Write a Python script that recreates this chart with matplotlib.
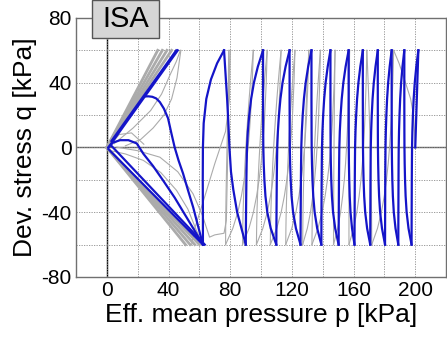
import matplotlib
matplotlib.use("Agg")
import matplotlib.pyplot as plt
from matplotlib.patches import Rectangle

plt.rcParams['font.family'] = ['Liberation Sans', 'DejaVu Sans']

# ---------------- data ----------------
Q_LEVELS = [60, 50, 40, 30, 20, 10, 0, -10, -20, -30, -40, -50, -60]

# simulated (blue) cyclic leaves in the right part
BLUE_TOPS = [76.0, 101.3, 118.5, 132.7, 145.0, 156.8, 166.0, 175.7, 184.7, 192.9, 202.0]
BLUE_BOTTOMS = [90.1, 109.9, 125.6, 139.1, 150.3, 160.6, 170.8, 180.4, 189.0, 197.6]
# fraction of the way from top point to bottom point at each q level
BLUE_DOWN_SHAPE = [0.0, 0.0, 0.0, 0.0, 0.005, 0.01, 0.02, 0.05, 0.1, 0.18, 0.32, 0.58, 1.0]
# fraction of the way from bottom point to next top point at each q level
BLUE_UP_SHAPE = [1.0, 0.7, 0.47, 0.31, 0.2, 0.12, 0.07, 0.05, 0.035, 0.025, 0.015, 0.007, 0.0]
BLUE_START_P = [202.0, 200.0]
BLUE_START_Q = [60.0, 0.0]

# simulated (blue) curves near the origin (butterfly)
BLUE_LEAF0_P = [76.0, 77.0, 78.0, 78.8, 79.5, 80.5, 82.0, 84.5, 90.1]
BLUE_LEAF0_Q = [60, 45, 30, 15, 0, -15, -26, -40, -60]
BLUE_BIGARC_P = [62.3, 62.3, 62.2, 62.3, 62.8, 64.5, 67.5, 71.5, 76.0]
BLUE_BIGARC_Q = [-60, -40, -20, 0, 15, 30, 42, 52, 60]
BLUE_ARC1_P = [62.3, 59.0, 56.0, 52.5, 49.4, 46.5, 44.0, 41.8, 39.7, 37.0, 34.4, 32.0, 29.5, 27.0, 24.5]
BLUE_ARC1_Q = [-60, -48, -37, -26, -16, -8, 0, 9, 18, 24, 28, 30.3, 31.3, 31.6, 31.5]
BLUE_ARC2_P = [1.0, 4.0, 8.6, 14.0, 19.4, 23.7, 30.0, 36.5, 44.0, 51.6, 57.0, 62.3]
BLUE_ARC2_Q = [0.0, 3.0, 4.5, 4.5, 2.5, -3.9, -11.5, -20.4, -31.0, -43.0, -51.5, -60.0]
BLUE_COMP_P = [[1.0, 46.0], [3.0, 45.0]]
BLUE_COMP_Q = [[0.0, 60.0], [4.0, 60.0]]
BLUE_EXT_P = [[1.0, 62.3], [3.0, 63.5]]
BLUE_EXT_Q = [[-1.0, -60.0], [1.0, -60.0]]

# experiment (grey)
GRAY_TOPS = [186.0, 168.6, 157.4, 148.0, 138.5, 131.0, 122.0, 113.0, 104.0, 95.0, 80.0]
GRAY_BOTTOMS = [171.8, 157.0, 147.0, 133.0, 127.0, 116.0, 106.0, 97.0, 88.0, 77.0]
GRAY_DOWN_SHAPE = [0.0, 0.02, 0.04, 0.07, 0.1, 0.14, 0.19, 0.25, 0.33, 0.43, 0.56, 0.74, 1.0]
GRAY_UP_SHAPE = [1.0, 0.86, 0.73, 0.61, 0.5, 0.4, 0.31, 0.23, 0.16, 0.1, 0.05, 0.02, 0.0]
GRAY_INIT_P = [200.0, 199.5, 199.0, 197.0, 193.0, 189.5, 186.0]
GRAY_INIT_Q = [0, 10, 19, 30, 42, 52, 60]
GRAY_COMP_TOPS = [33.0, 36.0, 39.0, 42.0]
GRAY_EXT_BOTTOMS = [51.0, 54.0, 57.0, 60.0]
GRAY_ARCS_P = [
    [4.7, 17.0, 28.4, 35.5, 41.3, 45.0, 47.7],
    [12.0, 22.0, 30.0, 37.0, 42.0, 45.5, 48.0],
    [2.1, 12.0, 23.7, 35.0, 45.2, 52.5, 58.0, 62.3],
    [6.5, 20.0, 34.4, 46.0, 55.9, 62.0, 66.6, 70.0, 76.0, 77.5, 78.5, 79.0],
    [80.0, 79.5, 77.0, 70.0, 62.0, 57.0, 55.0],
    [1.0, 8.0, 16.0, 24.0],
]
GRAY_ARCS_Q = [
    [2.3, 12.0, 22.8, 33.0, 45.5, 53.0, 60.0],
    [1.0, 5.0, 12.0, 20.0, 30.0, 43.0, 60.0],
    [-1.9, -4.0, -8.0, -15.5, -26.5, -38.0, -51.0, -60.0],
    [0.2, -2.0, -6.0, -15.0, -28.6, -42.0, -55.4, -54.0, -53.0, -45.0, 0.0, 60.0],
    [60.0, 30.0, 10.0, -10.0, -35.0, -50.0, -60.0],
    [0.0, 8.0, 9.0, 2.0],
]

X_TICKS = [0, 40, 80, 120, 160, 200]
Y_TICKS = [-80, -40, 0, 40, 80]

BLUE = '#1414c8'
GREY = '#ababab'

# ---------------- figure ----------------
fig = plt.figure(figsize=(4.47, 3.39), dpi=100)
ax = fig.add_axes([0.170, 0.183, 0.828, 0.764])

# grey (experiment)
for top in GRAY_COMP_TOPS:
    ax.plot([0, top], [0, 60], color=GREY, lw=2.0, zorder=2)
for bot in GRAY_EXT_BOTTOMS:
    ax.plot([0, bot], [0, -60], color=GREY, lw=2.0, zorder=2)
for ps, qs in zip(GRAY_ARCS_P, GRAY_ARCS_Q):
    ax.plot(ps, qs, color=GREY, lw=0.8, zorder=2)
ax.plot(GRAY_INIT_P, GRAY_INIT_Q, color=GREY, lw=0.8, zorder=2)
for i, b in enumerate(GRAY_BOTTOMS):
    t = GRAY_TOPS[i]
    ax.plot([t + (b - t) * s for s in GRAY_DOWN_SHAPE], Q_LEVELS, color=GREY, lw=0.8, zorder=2)
    tn = GRAY_TOPS[i + 1]
    ax.plot([b + (tn - b) * s for s in GRAY_UP_SHAPE], Q_LEVELS, color=GREY, lw=0.8, zorder=2)

# blue (simulation)
for i, b in enumerate(BLUE_BOTTOMS):
    t = BLUE_TOPS[i]
    if i > 0:
        ax.plot([t + (b - t) * s for s in BLUE_DOWN_SHAPE], Q_LEVELS, color=BLUE, lw=1.6, zorder=3)
    tn = BLUE_TOPS[i + 1]
    ax.plot([b + (tn - b) * s for s in BLUE_UP_SHAPE], Q_LEVELS, color=BLUE, lw=1.6, zorder=3)
ax.plot(BLUE_START_P, BLUE_START_Q, color=BLUE, lw=1.6, zorder=3)
ax.plot(BLUE_LEAF0_P, BLUE_LEAF0_Q, color=BLUE, lw=1.6, zorder=3)
ax.plot(BLUE_BIGARC_P, BLUE_BIGARC_Q, color=BLUE, lw=1.6, zorder=3)
ax.plot(BLUE_ARC1_P, BLUE_ARC1_Q, color=BLUE, lw=1.6, zorder=3)
ax.plot(BLUE_ARC2_P, BLUE_ARC2_Q, color=BLUE, lw=1.6, zorder=3)
for ps, qs in zip(BLUE_COMP_P, BLUE_COMP_Q):
    ax.plot(ps, qs, color=BLUE, lw=1.6, zorder=3)
for ps, qs in zip(BLUE_EXT_P, BLUE_EXT_Q):
    ax.plot(ps, qs, color=BLUE, lw=1.6, zorder=3)

# axes styling
ax.set_xlim(-20, 220)
ax.set_ylim(-80, 80)
ax.set_xticks(X_TICKS)
ax.set_yticks(Y_TICKS)
ax.set_xticks(list(range(-20, 221, 20)), minor=True)
ax.set_yticks(list(range(-80, 81, 20)), minor=True)
ax.set_xticklabels([str(v) for v in X_TICKS])
ax.set_yticklabels([str(v) for v in Y_TICKS])
ax.grid(True, which='both', linestyle=(0, (1.5, 1.5)), color='#8c8c8c', lw=0.6, zorder=0)
ax.tick_params(which='both', length=0, labelsize=15, pad=3)
ax.axvline(0, color='black', lw=1.0, zorder=1)
ax.axhline(0, color='#606060', lw=1.0, zorder=1)
for sp in ax.spines.values():
    sp.set_color('#707070')
    sp.set_linewidth(1.0)
ax.set_xlabel('Eff. mean pressure p [kPa]', fontsize=19, labelpad=2)
ax.set_ylabel('Dev. stress q [kPa]', fontsize=19, labelpad=3)

# ISA label box
fig.patches.append(Rectangle((92 / 447, 1 - 38 / 339), 67 / 447, 38 / 339,
                             transform=fig.transFigure, facecolor='#d6d6d6',
                             edgecolor='#555555', lw=1.0, zorder=5))
fig.text((92 + 33.5) / 447, 1 - 19 / 339, 'ISA', fontsize=21, ha='center', va='center',
         zorder=6)

fig.savefig('out.png', dpi=100)
